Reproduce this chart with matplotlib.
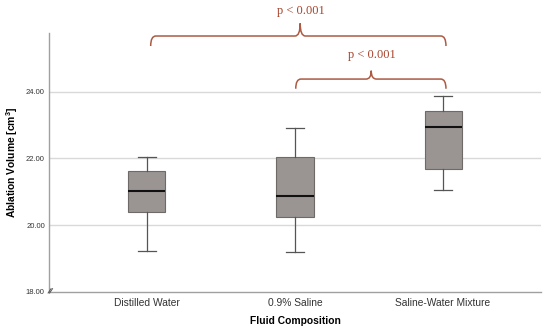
import matplotlib
matplotlib.use("Agg")
import matplotlib.pyplot as plt
from matplotlib.path import Path
from matplotlib.patches import PathPatch

categories = ["Distilled Water", "0.9% Saline", "Saline-Water Mixture"]
whislo = [19.22, 19.20, 21.07]
q1 = [20.41, 20.25, 21.68]
med = [21.02, 20.89, 22.93]
q3 = [21.63, 22.04, 23.43]
whishi = [22.04, 22.90, 23.86]
yticks = [18, 20, 22, 24]
sig_pairs = [(0, 2), (1, 2)]
sig_labels = ["p < 0.001", "p < 0.001"]

plt.rcParams['font.family'] = ['Liberation Sans', 'DejaVu Sans']
plt.rcParams['mathtext.fontset'] = 'custom'
plt.rcParams['mathtext.bf'] = 'Liberation Sans:bold'
plt.rcParams['mathtext.rm'] = 'Liberation Sans'

fig = plt.figure(figsize=(5.5, 3.34), dpi=100)
ax = fig.add_axes([49/550, 42/334, 492/550, 259/334])

stats = []
for i in range(len(categories)):
    stats.append(dict(label=categories[i], whislo=whislo[i], q1=q1[i], med=med[i],
                      q3=q3[i], whishi=whishi[i], fliers=[]))
ax.bxp(stats, positions=range(len(categories)), widths=0.25, patch_artist=True,
       showfliers=False, capwidths=0.12,
       boxprops=dict(facecolor='#9a9593', edgecolor='#6e6a68', linewidth=0.8),
       medianprops=dict(color='#111111', linewidth=1.5),
       whiskerprops=dict(color='#555555', linewidth=0.9),
       capprops=dict(color='#555555', linewidth=0.9), zorder=3)

ax.set_xlim(-0.662, 2.662)
ax.set_ylim(18, 25.76)
ax.set_yticks(yticks)
ax.set_yticklabels([f"{v:.2f}" for v in yticks], fontsize=5.5, color='#333333')
ax.set_xticks(range(len(categories)))
ax.set_xticklabels(categories, fontsize=7.4, color='#333333')
ax.tick_params(axis='both', length=0, pad=3)
ax.tick_params(axis='x', pad=4)
for y in yticks[1:]:
    ax.axhline(y, color='#d9d9d9', linewidth=1.0, zorder=1)
for s in ['top', 'right']:
    ax.spines[s].set_visible(False)
for s in ['left', 'bottom']:
    ax.spines[s].set_color('#a0a0a0')
    ax.spines[s].set_linewidth(1.0)

ax.set_xlabel("Fluid Composition", fontsize=7.4, fontweight='bold', labelpad=6)
ax.set_ylabel(r"Ablation Volume [cm$^{\mathbf{3}}$]", fontsize=7.4, fontweight='bold', labelpad=4)

# axis break mark
ax.plot([-0.668, -0.648], [17.97, 18.10], color='#555555', lw=0.7, clip_on=False, zorder=5)
ax.plot([-0.658, -0.638], [17.97, 18.10], color='#555555', lw=0.7, clip_on=False, zorder=5)

def brace(ax, x0, x1, xm, y, h, tip, color):
    dx = 0.035
    verts = [(x0, y - h), (x0, y), (x0 + dx, y), (xm - dx, y), (xm, y), (xm, y + tip),
             (xm, y), (xm + dx, y), (x1 - dx, y), (x1, y), (x1, y - h)]
    codes = [Path.MOVETO, Path.CURVE3, Path.CURVE3, Path.LINETO, Path.CURVE3, Path.CURVE3,
             Path.CURVE3, Path.CURVE3, Path.LINETO, Path.CURVE3, Path.CURVE3]
    p = PathPatch(Path(verts, codes), facecolor='none', edgecolor=color, lw=1.1,
                  clip_on=False, zorder=6)
    ax.add_patch(p)

col = '#ad5a42'
# bracket 1
brace(ax, 0.025, 2.02, 1.035, 25.67, 0.30, 0.38, col)
ax.text(1.04, 26.42, sig_labels[0], ha='center', va='center', fontsize=9,
        family='Liberation Serif', color='#a8432c', clip_on=False)
# bracket 2
brace(ax, 1.005, 2.02, 1.515, 24.38, 0.29, 0.25, col)
ax.text(1.52, 25.10, sig_labels[1], ha='center', va='center', fontsize=9,
        family='Liberation Serif', color='#a8432c', clip_on=False)

fig.savefig("out.png", dpi=100)
